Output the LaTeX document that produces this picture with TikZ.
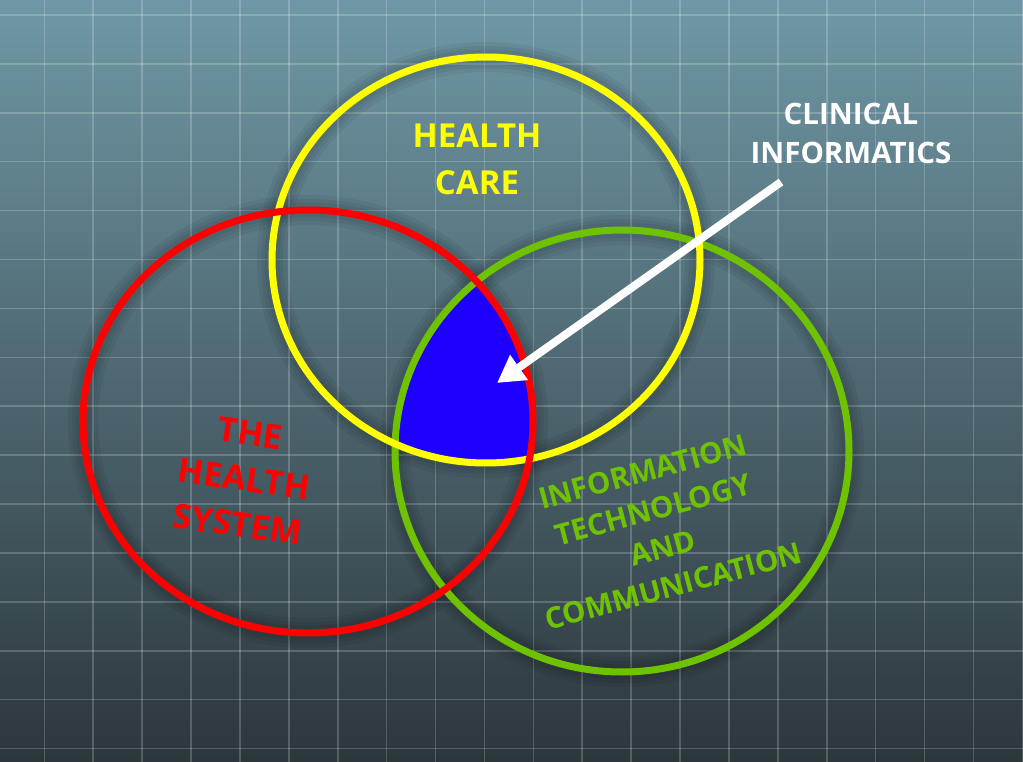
\documentclass[tikz,border=0pt]{standalone}
\usepackage{fontspec}
\setmainfont{Open Sans}
\usetikzlibrary{arrows.meta,shapes.geometric}
\definecolor{bgtop}{HTML}{6F98A6}
\definecolor{bgmid}{HTML}{4E626A}
\definecolor{bgbot}{HTML}{2C363B}
\definecolor{hsred}{HTML}{FF0000}
\definecolor{hcyellow}{HTML}{FFFF00}
\definecolor{itgreen}{HTML}{6EC200}
\definecolor{ciblue}{HTML}{1E00FF}
\tikzset{
  gridline/.style={white, opacity=0.2, line width=1.6pt},
  ring/.style={ellipse, inner sep=0pt, outer sep=0pt, line width=7pt},
  halo/.style={black, line width=#1, opacity=0.055},
  label/.style={font=\bfseries\fontsize{29}{39}\selectfont, align=center, inner sep=0pt},
}
\begin{document}
\begin{tikzpicture}[x=1pt,y=-1pt]
\useasboundingbox (0,0) rectangle (1023,762);
\shade[top color=bgtop, middle color=bgmid, bottom color=bgbot] (0,0) rectangle (1023,762);
% grid
\foreach \i in {-1,...,20} \draw[gridline] ({44.3+48.9*\i},0) -- ({44.3+48.9*\i},762);
\foreach \j in {-1,...,15} \draw[gridline] (0,{15+48.9*\j}) -- (1023,{15+48.9*\j});
% soft shadows
\foreach \w in {30pt,22pt,15pt}{
  \draw[halo=\w] (308,421.5) ellipse [x radius=225, y radius=211.5];
  \draw[halo=\w] (486,260) ellipse [x radius=214, y radius=203];
  \draw[halo=\w] (622,451) ellipse [x radius=227, y radius=221];
}
% intersection
\begin{scope}
  \clip (308,421.5) ellipse [x radius=225, y radius=211.5];
  \clip (486,260) ellipse [x radius=214, y radius=203];
  \fill[ciblue] (622,451) ellipse [x radius=227, y radius=221];
\end{scope}
% circles
\node[ring, draw=itgreen, minimum width=454pt, minimum height=442pt] (it) at (622,451) {};
\node[ring, draw=hcyellow, minimum width=428pt, minimum height=406pt] (care) at (486,260) {};
\node[ring, draw=hsred, minimum width=450pt, minimum height=423pt] (system) at (308,421.5) {};
% labels
\node[label, text=hcyellow, font=\bfseries\fontsize{33}{47}\selectfont] (caretext) at (477,159) {HEALTH\\CARE};
\node[label, text=hsred, rotate=-8, font=\bfseries\fontsize{34}{46}\selectfont] (systemtext) at (244,479) {THE\\HEALTH\\SYSTEM};
\node[label, text=itgreen, rotate=15, font=\bfseries\fontsize{29.5}{39.5}\selectfont] (ittext) at (658,529) {INFORMATION\\TECHNOLOGY\\AND\\COMMUNICATION};
\node[label, text=white, font=\bfseries\fontsize{29.5}{39}\selectfont] (clin) at (851,133) {CLINICAL\\INFORMATICS};
% arrow
\coordinate (astart) at (781,182);
\coordinate (atip) at (497,383);
\draw[white, line width=8pt, -{Triangle[length=27pt,width=29pt]}] (astart) -- (atip);
\end{tikzpicture}
\end{document}
